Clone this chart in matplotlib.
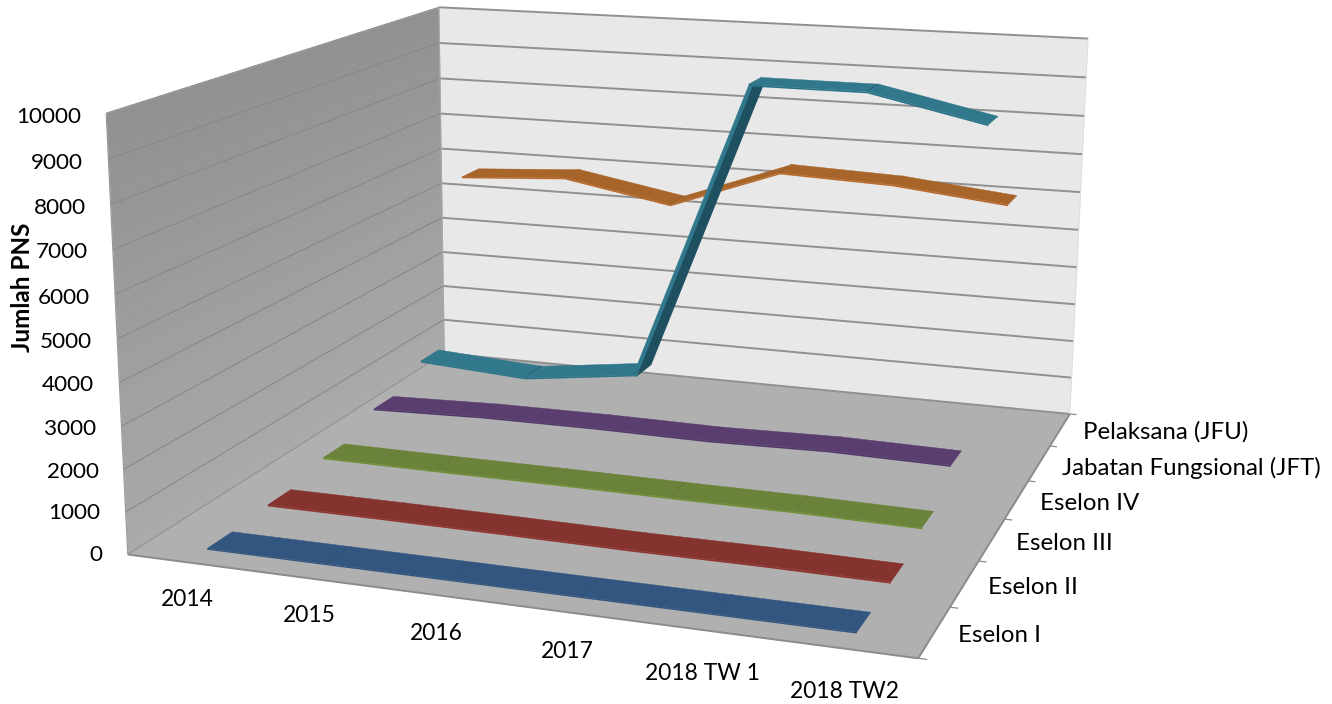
import numpy as np
import matplotlib
matplotlib.use("Agg")
import matplotlib.pyplot as plt
from mpl_toolkits.mplot3d.art3d import Poly3DCollection, Line3DCollection

categories = ['2014', '2015', '2016', '2017', '2018 TW 1', '2018 TW2']
series_names = ['Eselon I', 'Eselon II', 'Eselon III', 'Eselon IV',
                'Jabatan Fungsional (JFT)', 'Pelaksana (JFU)']
eselon_1 = [10, 10, 10, 10, 10, 10]
eselon_2 = [85, 90, 80, 60, 70, 50]
eselon_3 = [345, 340, 345, 335, 335, 300]
eselon_4 = [755, 845, 865, 845, 910, 870]
jft = [1240, 1060, 1430, 9180, 9175, 8545]
jfu = [5680, 5855, 5330, 6395, 6285, 5975]
z_ticks = [0, 1000, 2000, 3000, 4000, 5000, 6000, 7000, 8000, 9000, 10000]

all_series = [eselon_1, eselon_2, eselon_3, eselon_4, jft, jfu]

# face, front edge, underside colours per series
top_colors = ['#32567F', '#85332F', '#6A8239', '#5A3E6F', '#31788D', '#A8652A']
edge_colors = ['#32567F', '#8F3530', '#6F8F35', '#50386A', '#2A7388', '#B8682A']
under_colors = ['#2B4A6E', '#752C29', '#5C7132', '#4E3661', '#1F5060', '#8C5423']

# where the box corners sit in the picture, used to fit the camera
box_world = [(0, 0, 0), (6, 0, 0), (0, 6, 0), (6, 6, 0), (0, 0, 1), (0, 6, 1), (6, 6, 1)]
box_pixels = [(128, 554), (918, 659), (444, 354), (1070, 413), (106, 113), (439, 7), (1088, 39)]

W, H = 1332, 704
Z_MAX = 10000
THICK = 40
FONT = 'Lato'


def fit_camera():
    """Fit a 3x4 perspective matrix from world (z in Z_MAX units) to pixels."""
    A, b = [], []
    for (x, y, z), (u, v) in zip(box_world, box_pixels):
        A.append([x, y, z, 1, 0, 0, 0, 0, -u * x, -u * y, -u * z])
        A.append([0, 0, 0, 0, x, y, z, 1, -v * x, -v * y, -v * z])
        b += [u, v]
    sol = np.linalg.lstsq(np.array(A, float), np.array(b, float), rcond=None)[0]
    P = np.append(sol, 1).reshape(3, 4)
    P[:, 2] /= Z_MAX
    return P


fig = plt.figure(figsize=(W / 100, H / 100), dpi=100)
# 3d axes are forced square, so make them a big square round the figure
ax = fig.add_axes([0, (H - W) / 2 / H, 1, W / H], projection='3d', computed_zorder=False)
ax.set_axis_off()
ax.patch.set_visible(False)
camera = fit_camera()


def get_proj():
    inv = ax.transData.inverted()
    (x0, y0), (x1, y1) = inv.transform([(0, 0), (W, H)])
    sx, sy = (x1 - x0) / W, (y1 - y0) / H
    M = np.zeros((4, 4))
    M[0] = sx * camera[0] + x0 * camera[2]
    M[1] = (y0 + sy * H) * camera[2] - sy * camera[1]
    M[2] = [0, 0, 1 / Z_MAX, 0]
    M[3] = camera[2]
    return M


ax.get_proj = get_proj


def to_pixel_x(x, y, z):
    p = camera @ np.array([x, y, z, 1.0])
    return p[0] / p[2]


def quad(pts, color, zorder, lw=0.0):
    poly = Poly3DCollection([pts], facecolors=color, edgecolors=color,
                            linewidths=lw, zorder=zorder)
    ax.add_collection3d(poly, autolim=False)


def lines(segs, color, lw, zorder=3):
    coll = Line3DCollection(segs, colors=color, linewidths=lw, zorder=zorder)
    ax.add_collection3d(coll, autolim=False)


def draw_walls():
    # left wall is a soft vertical gradient, so build it from thin bands
    levels = np.linspace(0, Z_MAX, 41)
    shades = np.interp(levels[:-1], [0, Z_MAX], [0.665, 0.565])
    for z0, z1, s in zip(levels[:-1], levels[1:], shades):
        quad([(0, 0, z0), (0, 6, z0), (0, 6, z1), (0, 0, z1)], str(s), 1, lw=0.4)
    quad([(0, 6, 0), (6, 6, 0), (6, 6, Z_MAX), (0, 6, Z_MAX)], '#E8E8E8', 1)
    quad([(0, 0, 0), (6, 0, 0), (6, 6, 0), (0, 6, 0)], '#B0B0B0', 2)

    lines([[(0, 0, z), (0, 6, z)] for z in z_ticks], '#858585', 0.7)
    lines([[(0, 6, z), (6, 6, z)] for z in z_ticks], '#909090', 1.4)
    lines([[(0, 0, Z_MAX), (0, 0, 0)], [(0, 0, 0), (0, 6, 0)]], '#9A9A9A', 0.8)
    lines([[(0, 6, 0), (0, 6, Z_MAX)]], '#A8A8A8', 0.8)
    lines([[(0, 0, 0), (6, 0, 0)], [(6, 0, 0), (6, 6, 0)]], '#8C8C8C', 1.4)
    lines([[(6, 6, 0), (6, 6, Z_MAX)]], '#DDDDDD', 0.6)
    lines([[(6, i, 0), (6.06, i, 0)] for i in range(7)], '#8C8C8C', 0.9)


def draw_ribbon(i, values, base_z):
    y0, y1 = i + 0.3, i + 0.7
    xs = np.arange(len(values)) + 0.5
    bottom = [max(v - THICK / 2, 0) for v in values]
    top = [v + THICK / 2 for v in values]
    z = base_z
    for k in range(len(values) - 1):
        xa, xb = xs[k], xs[k + 1]
        quad([(xa, y0, top[k]), (xb, y0, top[k + 1]), (xb, y1, top[k + 1]), (xa, y1, top[k])],
             top_colors[i], z, lw=0.3)
        # steep rise: we look at the underside, with the front edge as a strip beside it
        if values[k + 1] - values[k] > 3000:
            d = 0.03
            quad([(xa + d, y0, bottom[k]), (xb + d, y0, bottom[k + 1]),
                  (xb + d, y1, bottom[k + 1]), (xa + d, y1, bottom[k])], under_colors[i], z + 0.1)
            quad([(xa, y0, bottom[k]), (xb, y0, bottom[k + 1]),
                  (xb + d, y0, bottom[k + 1]), (xa + d, y0, bottom[k])], top_colors[i], z + 0.2)
        else:
            quad([(xa, y0, bottom[k]), (xb, y0, bottom[k + 1]),
                  (xb, y0, top[k + 1]), (xa, y0, top[k])], edge_colors[i], z + 0.2)
        if k > 0:
            lines([[(xa, y0, top[k]), (xa, y1, top[k])]], under_colors[i], 0.4, z + 0.3)
        z += 1


def draw_labels():
    # labels follow the slanted wall edge
    z_label_y = [555, 513, 472, 429, 385, 342, 298, 252, 208, 163, 117]
    for t, py in zip(z_ticks, z_label_y):
        px = to_pixel_x(0, 0, t) - 25
        fig.text(px / W, 1 - py / H, str(t), ha='right', va='center',
                 fontsize=16.2, family=FONT, color='black')
    cat_xy = [(187, 600), (309, 616), (436, 634), (567, 652), (702, 673), (844, 691)]
    for name, (px, py) in zip(categories, cat_xy):
        fig.text(px / W, 1 - py / H, name, ha='center', va='center',
                 fontsize=16.4, family=FONT, color='black')
    series_xy = [(958, 635), (988, 587), (1016, 543), (1040, 503), (1062, 468), (1083, 432)]
    for name, (px, py) in zip(series_names, series_xy):
        fig.text(px / W, 1 - py / H, name, ha='left', va='center',
                 fontsize=17.3, family=FONT, color='black')
    fig.text(23 / W, 1 - 287 / H, 'Jumlah PNS', rotation=90, ha='center', va='center',
             fontsize=17.5, family=FONT, fontweight='bold', color='black')


def main():
    draw_walls()
    # furthest series first so nearer ones paint over it
    base = 10
    for i in reversed(range(len(all_series))):
        draw_ribbon(i, all_series[i], base)
        base += 10
    draw_labels()
    fig.savefig('out.png', dpi=100)


if __name__ == "__main__":
    main()
